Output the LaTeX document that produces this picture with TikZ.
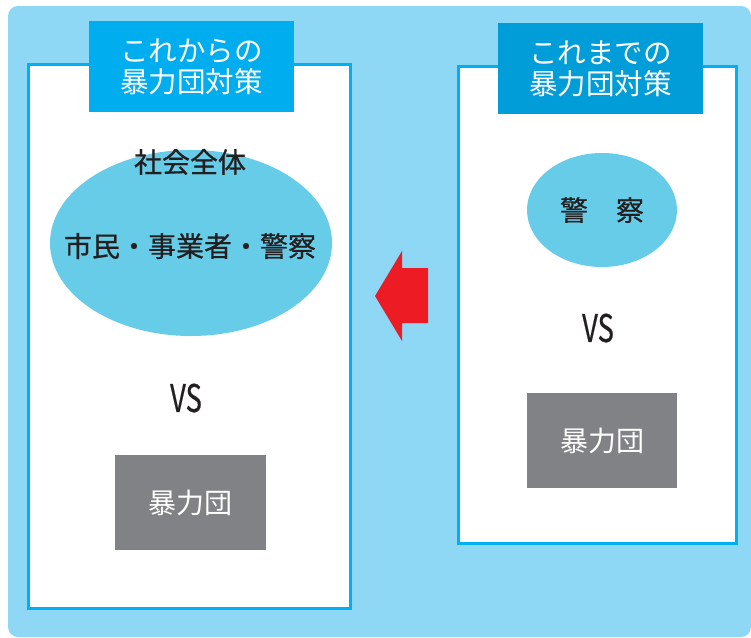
\documentclass[tikz,border=0pt]{standalone}
\usepackage{fontspec}
\setmainfont{Noto Sans CJK JP}
\newfontfamily\inkfont{Noto Sans CJK JP}[BoldFont={Noto Sans CJK JP}, BoldFeatures={FakeBold=0.6}]
\usetikzlibrary{shapes.geometric}
\definecolor{skybg}{HTML}{8ED8F6}
\definecolor{boxline}{HTML}{00B0F0}
\definecolor{titleL}{HTML}{00AEEF}
\definecolor{titleR}{HTML}{009DD8}
\definecolor{oval}{HTML}{66CCE8}
\definecolor{gangray}{HTML}{808285}
\definecolor{ink}{HTML}{231F20}
\definecolor{arrowred}{HTML}{ED1C24}
\tikzset{
	panel/.style={draw=boxline, line width=3pt, fill=white, rectangle},
	titlebox/.style={rectangle, text=white, align=center, minimum width=205pt, minimum height=91pt, font=\fontsize{28.5}{31}\selectfont},
	oval/.style={ellipse, fill=oval, inner sep=0pt},
	gangbox/.style={rectangle, fill=gangray, text=white, font=\fontsize{28}{30}\selectfont},
	jtext/.style={text=ink, font=\inkfont\bfseries\fontsize{28}{30}\selectfont},
	vstext/.style={text=ink, font=\inkfont\bfseries\fontsize{38}{40}\selectfont}
}
\newcommand{\vslabel}{\scalebox{0.72}[1]{VS}}
\begin{document}
\begin{tikzpicture}[x=1pt, y=-1pt]
				\useasboundingbox (0,0) rectangle (751,637);
				% Background
				\fill[skybg, rounded corners=10pt] (8,6) rectangle (751,637);

				% Left panel (new measures)
				\node[panel, minimum width=322pt, minimum height=544pt] (newpanel) at (189.5,336.5) {};
				\node[titlebox, fill=titleL] (newtitle) at (191.5,66.5) {これからの\\暴力団対策};
				\node[oval, minimum width=282pt, minimum height=186pt] (society) at (191,243) {};
				\node[jtext] (whole) at (190,162) {社会全体};
				\node[jtext] (members) at (190,246) {市民・事業者・警察};
				\node[vstext] (newvs) at (186,398) {\vslabel};
				\node[gangbox, minimum width=151pt, minimum height=95pt] (newgang) at (190.5,502.5) {暴力団};

				% Right panel (old measures)
				\node[panel, minimum width=278pt, minimum height=477pt] (oldpanel) at (597.5,305) {};
				\node[titlebox, fill=titleR] (oldtitle) at (600.5,68.5) {これまでの\\暴力団対策};
				\node[oval, minimum width=150pt, minimum height=114pt] (police) at (602,210) {};
				\node[jtext] (policetext) at (602,210) {警　察};
				\node[vstext] (oldvs) at (598,328) {\vslabel};
				\node[gangbox, minimum width=150pt, minimum height=95pt] (oldgang) at (602,440.5) {暴力団};

				% Red arrow
				\fill[arrowred] (375,296) -- (402,251) -- (402,268) -- (428,268) -- (428,323) -- (402,323) -- (402,341) -- cycle;
			\end{tikzpicture}
\end{document}
